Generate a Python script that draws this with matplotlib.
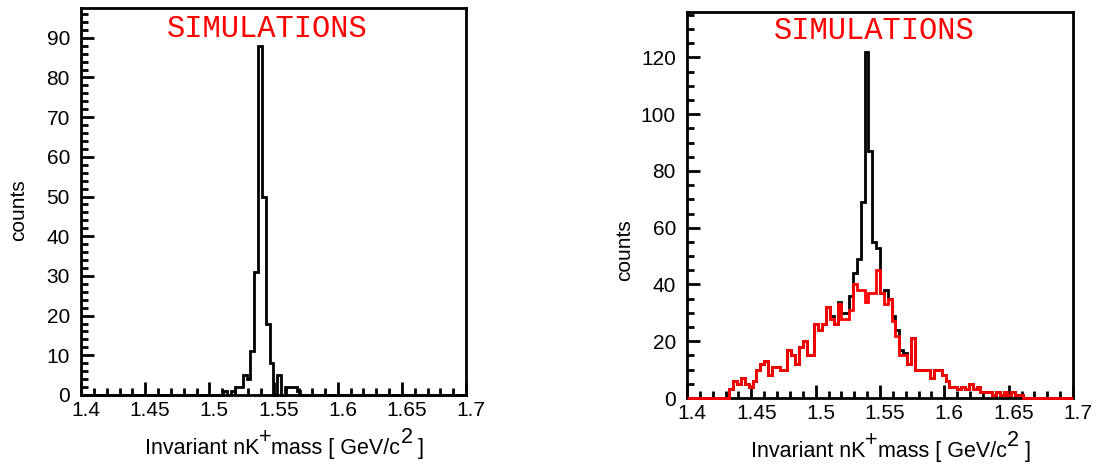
import numpy as np
import matplotlib
matplotlib.use('Agg')
import matplotlib.pyplot as plt
from matplotlib.ticker import MultipleLocator
from matplotlib.transforms import ScaledTranslation

plt.rcParams['font.family'] = ['Liberation Sans', 'DejaVu Sans']

# ============================================================
# data: 100 bins of 0.003 GeV between 1.4 and 1.7
# ============================================================
x_min, x_max, n_bins = 1.4, 1.7, 100

# signal only (left panel), bins 37..56
signal_first = 37
signal_counts = [1, 0, 1, 2, 2, 5, 4, 11, 31, 88, 50, 18, 8, 0, 5, 0, 2, 2, 2, 1]

# background (red, right panel), bins 11..86
bkg_first = 11
bkg_counts = [3, 6, 5, 7, 5, 4, 6, 10, 12, 13,
              8, 11, 11, 10, 10, 17, 15, 12, 18, 20,
              15, 15, 26, 24, 26, 32, 28, 26, 33, 28,
              28, 31, 40, 38, 38, 34, 37, 37, 45, 37,
              33, 35, 27, 22, 15, 15, 12, 21, 10, 10,
              10, 10, 7, 10, 10, 8, 6, 4, 4, 3,
              4, 3, 5, 3, 4, 2, 2, 2, 1, 2,
              1, 2, 1, 2, 1, 1]

x_ticks = [1.4, 1.45, 1.5, 1.55, 1.6, 1.65, 1.7]
x_tick_labels = ['1.4', '1.45', '1.5', '1.55', '1.6', '1.65', '1.7']
title_text = 'SIMULATIONS'
# x label pieces: (text, raised?)
x_label_parts = [('Invariant nK', False), ('+', True), ('mass [ GeV/c', False),
                 ('2', True), (' ]', False)]
y_label = 'counts'

edges = np.linspace(x_min, x_max, n_bins + 1)
signal = np.zeros(n_bins)
signal[signal_first:signal_first + len(signal_counts)] = signal_counts
bkg = np.zeros(n_bins)
bkg[bkg_first:bkg_first + len(bkg_counts)] = bkg_counts
total = bkg + signal

# ============================================================
# figure
# ============================================================
fig = plt.figure(figsize=(10.99, 4.66), dpi=100)
ax1 = fig.add_axes([81 / 1099, 1 - 395 / 466, 385 / 1099, 387 / 466])
ax2 = fig.add_axes([687 / 1099, 1 - 398 / 466, 386 / 1099, 386 / 466])


def draw_xlabel(ax, x0, y0, size=15.5, raise_pt=8):
    prev = ax.text(x0, y0, x_label_parts[0][0], transform=ax.transAxes,
                   ha='left', va='baseline', fontsize=size)
    prev_up = False
    for txt, up in x_label_parts[1:]:
        dy = (raise_pt if up else 0) - (raise_pt if prev_up else 0)
        prev = ax.annotate(txt, xy=(1, 0), xycoords=prev, xytext=(0, dy),
                           textcoords='offset points', ha='left', va='bottom',
                           fontsize=size)
        prev_up = up


def style(ax, ymax, ymajor, yminor, ylab_y):
    ax.set_xlim(x_min, x_max)
    ax.set_ylim(0, ymax)
    for s in ax.spines.values():
        s.set_linewidth(2)
    ax.set_xticks(x_ticks)
    ax.set_xticklabels(x_tick_labels)
    ax.xaxis.set_minor_locator(MultipleLocator(0.01))
    ax.yaxis.set_major_locator(MultipleLocator(ymajor))
    ax.yaxis.set_minor_locator(MultipleLocator(yminor))
    ax.tick_params(which='both', direction='in', top=False, right=False,
                   labelsize=15, width=2)
    ax.tick_params(which='major', length=9.5)
    ax.tick_params(which='minor', length=5)
    ax.tick_params(axis='x', pad=4)
    ax.tick_params(axis='y', pad=8)
    for lab in ax.get_xticklabels():
        lab.set_transform(lab.get_transform() + ScaledTranslation(0.05, 0, fig.dpi_scale_trans))
    ax.set_ylabel(y_label, fontsize=15)
    ax.yaxis.set_label_coords(-0.138, ylab_y)
    draw_xlabel(ax, 0.165, -0.152)


# left: signal only
ax1.stairs(signal, edges, color='black', linewidth=2, baseline=0, clip_on=False, zorder=3)
style(ax1, 97.5, 10, 2, 0.478)
ax1.text(0.485, 0.945, title_text, transform=ax1.transAxes, ha='center', va='center',
         color='red', fontsize=22, family='Liberation Mono')

# right: signal + background (black), background (red)
ax2.stairs(total, edges, color='black', linewidth=2, baseline=0, clip_on=False, zorder=3)
ax2.stairs(bkg, edges, color='red', linewidth=2, baseline=0, clip_on=False, zorder=4)
style(ax2, 136, 20, 5, 0.383)
ax2.text(0.485, 0.952, title_text, transform=ax2.transAxes, ha='center', va='center',
         color='red', fontsize=22, family='Liberation Mono')

plt.savefig('out.png', dpi=100)
